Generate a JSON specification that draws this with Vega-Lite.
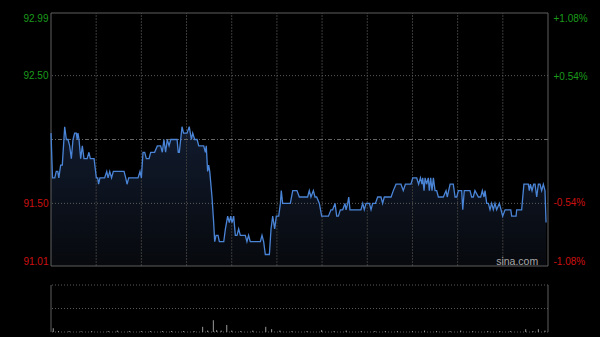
{
  "$schema": "https://vega.github.io/schema/vega-lite/v6.json",
  "width": 497,
  "height": 319,
  "autosize": {"type": "none"},
  "padding": {"left": 51, "top": 13, "right": 52, "bottom": 5},
  "background": "#000000",
  "config": {"view": {"stroke": null}, "font": "Liberation Sans"},
  "datasets": {
    "price": [
      {"t":0,"p":92.05},{"t":1,"p":91.70},{"t":2.5,"p":91.70},{"t":3.5,"p":91.75},{"t":4.5,"p":91.75},{"t":5.2,"p":91.70},{"t":6.4,"p":91.80},{"t":7.5,"p":91.80},{"t":9.1,"p":92.10},{"t":10.2,"p":92.00},{"t":11.3,"p":92.00},{"t":12.4,"p":91.95},{"t":13.5,"p":91.85},{"t":14.6,"p":92.00},{"t":15.7,"p":92.05},{"t":16.8,"p":92.05},{"t":17.4,"p":92.00},{"t":17.9,"p":92.05},{"t":18.6,"p":92.00},{"t":19.7,"p":91.85},{"t":20.8,"p":91.95},{"t":21.9,"p":91.85},{"t":24,"p":91.85},{"t":25.2,"p":91.90},{"t":26.1,"p":91.85},{"t":28.6,"p":91.85},
      {"t":30.1,"p":91.70},{"t":31,"p":91.70},{"t":31.6,"p":91.65},{"t":32.5,"p":91.70},{"t":35.6,"p":91.70},{"t":37,"p":91.75},{"t":37.9,"p":91.70},{"t":39,"p":91.75},{"t":40.2,"p":91.70},{"t":41.4,"p":91.75},{"t":48.5,"p":91.75},{"t":49.6,"p":91.70},{"t":50.5,"p":91.65},{"t":51.6,"p":91.70},{"t":57.8,"p":91.70},{"t":59.1,"p":91.75},{"t":60,"p":91.70},{"t":61.1,"p":91.90},{"t":62.2,"p":91.90},{"t":63.3,"p":91.85},{"t":65.1,"p":91.85},{"t":66.2,"p":91.90},{"t":68.8,"p":91.90},{"t":70.6,"p":91.95},{"t":72.8,"p":91.95},{"t":73.9,"p":91.90},{"t":75,"p":92.00},{"t":76.1,"p":91.90},{"t":77.2,"p":92.00},{"t":78.4,"p":91.95},{"t":79.5,"p":92.00},
      {"t":83.7,"p":92.00},{"t":84.5,"p":91.90},{"t":85.2,"p":91.90},{"t":87,"p":92.10},{"t":88,"p":92.05},{"t":90.3,"p":92.05},{"t":91.8,"p":92.10},{"t":93.2,"p":92.00},{"t":94.1,"p":92.05},{"t":95.4,"p":92.00},{"t":97,"p":92.00},{"t":98.1,"p":91.95},{"t":101.4,"p":91.95},{"t":102.5,"p":91.90},{"t":103.1,"p":91.95},{"t":104,"p":91.75},{"t":104.7,"p":91.80},{"t":105.4,"p":91.75},{"t":106.9,"p":91.55},{"t":108,"p":91.35},{"t":108.7,"p":91.20},{"t":109.6,"p":91.25},{"t":110.9,"p":91.25},{"t":111.8,"p":91.20},{"t":114.7,"p":91.20},{"t":115.8,"p":91.30},{"t":117.3,"p":91.40},{"t":118.4,"p":91.35},{"t":119.3,"p":91.40},{"t":120.2,"p":91.35},{"t":121.3,"p":91.40},{"t":122.4,"p":91.25},{"t":123.5,"p":91.25},{"t":124.6,"p":91.30},{"t":125.7,"p":91.25},{"t":129,"p":91.25},{"t":130.1,"p":91.20},{"t":131.2,"p":91.25},{"t":132.3,"p":91.20},{"t":139,"p":91.20},{"t":140.1,"p":91.25},{"t":141.2,"p":91.20},{"t":142.3,"p":91.10},{"t":145,"p":91.10},{"t":146.1,"p":91.30},{"t":147.2,"p":91.40},{"t":148.5,"p":91.30},{"t":149.6,"p":91.40},{"t":151.2,"p":91.40},{"t":152.3,"p":91.50},{"t":152.9,"p":91.60},{"t":153.8,"p":91.50},{"t":158.9,"p":91.50},{"t":160.5,"p":91.60},{"t":163.3,"p":91.60},{"t":164.9,"p":91.55},
      {"t":170.4,"p":91.55},{"t":171.5,"p":91.60},{"t":172.6,"p":91.55},{"t":174.2,"p":91.60},{"t":175.3,"p":91.55},{"t":176.4,"p":91.55},{"t":178.2,"p":91.50},{"t":179.7,"p":91.40},{"t":184.2,"p":91.40},{"t":185.9,"p":91.45},{"t":187,"p":91.45},{"t":188.6,"p":91.50},{"t":189.7,"p":91.40},{"t":190.8,"p":91.40},{"t":192.1,"p":91.45},{"t":193.7,"p":91.45},{"t":195.2,"p":91.50},{"t":195.9,"p":91.45},{"t":197,"p":91.50},{"t":197.7,"p":91.55},{"t":198.5,"p":91.45},{"t":205.8,"p":91.45},{"t":207,"p":91.50},{"t":208,"p":91.45},{"t":209.2,"p":91.50},{"t":211.4,"p":91.50},{"t":212.5,"p":91.45},{"t":213.6,"p":91.50},{"t":215.4,"p":91.50},{"t":216.9,"p":91.55},{"t":219.1,"p":91.55},{"t":220.2,"p":91.50},{"t":221.3,"p":91.55},{"t":225.8,"p":91.55},{"t":227.3,"p":91.60},{"t":229.1,"p":91.65},{"t":232.4,"p":91.65},{"t":233.9,"p":91.60},{"t":235.3,"p":91.65},{"t":239,"p":91.65},{"t":240.2,"p":91.70},{"t":242.8,"p":91.70},{"t":244.1,"p":91.65},{"t":245.3,"p":91.70},
      {"t":246.3,"p":91.65},{"t":246.8,"p":91.70},{"t":247.7,"p":91.60},{"t":248.4,"p":91.70},{"t":249.4,"p":91.65},{"t":250.5,"p":91.70},{"t":251.2,"p":91.60},{"t":252.1,"p":91.70},{"t":253,"p":91.60},{"t":253.9,"p":91.70},{"t":255,"p":91.60},{"t":256.1,"p":91.60},{"t":257.2,"p":91.55},{"t":260.5,"p":91.55},{"t":262.3,"p":91.60},{"t":263.1,"p":91.55},{"t":265,"p":91.65},{"t":267.1,"p":91.65},{"t":268.3,"p":91.55},{"t":269.4,"p":91.55},{"t":270.5,"p":91.60},{"t":272.7,"p":91.60},{"t":273.4,"p":91.45},{"t":274.4,"p":91.60},{"t":278.2,"p":91.60},{"t":279.3,"p":91.55},{"t":280.4,"p":91.55},{"t":281.5,"p":91.60},{"t":283.8,"p":91.55},{"t":285.3,"p":91.55},{"t":286.4,"p":91.60},{"t":287.5,"p":91.55},{"t":288.2,"p":91.60},{"t":289.3,"p":91.50},{"t":290.4,"p":91.50},{"t":291.5,"p":91.45},{"t":292.6,"p":91.50},{"t":293.7,"p":91.45},{"t":294.8,"p":91.50},{"t":295.9,"p":91.45},{"t":297.7,"p":91.50},{"t":298.8,"p":91.45},{"t":299.9,"p":91.40},{"t":301.5,"p":91.45},{"t":305.3,"p":91.45},{"t":305.9,"p":91.40},{"t":308.8,"p":91.40},{"t":309.2,"p":91.45},{"t":312.5,"p":91.45},{"t":314,"p":91.65},{"t":316.9,"p":91.65},{"t":317.6,"p":91.60},{"t":318.3,"p":91.65},{"t":319.4,"p":91.60},{"t":320.5,"p":91.65},{"t":321.4,"p":91.65},{"t":322.5,"p":91.55},{"t":323.6,"p":91.65},{"t":324.7,"p":91.65},{"t":325.8,"p":91.60},{"t":326.9,"p":91.65},{"t":328,"p":91.60},{"t":328.7,"p":91.35}
    ],
    "vol": [
      {"t":1.5,"v":8},{"t":5,"v":2},{"t":12,"v":2},{"t":20,"v":1.5},{"t":27,"v":2},{"t":38,"v":2},{"t":44,"v":3},{"t":52,"v":2},{"t":60,"v":2},{"t":66,"v":2},{"t":74,"v":2},{"t":80,"v":2},{"t":88,"v":2},{"t":95,"v":2},{"t":100.7,"v":11},{"t":104,"v":3},{"t":107.8,"v":25},{"t":110,"v":4},{"t":113,"v":3},{"t":116.7,"v":15},{"t":120,"v":3},{"t":126,"v":2},{"t":134,"v":3},{"t":142.6,"v":11},{"t":146.5,"v":6},{"t":152,"v":3},{"t":160,"v":2},{"t":170,"v":2},{"t":179.7,"v":4},{"t":188,"v":2},{"t":196,"v":3},{"t":206,"v":2},{"t":215,"v":2},{"t":222,"v":2},{"t":230,"v":2},{"t":240,"v":2},{"t":248,"v":3},{"t":256,"v":2},{"t":265,"v":2},{"t":272,"v":3},{"t":280,"v":2},{"t":290,"v":2},{"t":298,"v":2},{"t":305,"v":2},{"t":315.2,"v":6},{"t":320,"v":2},{"t":323.6,"v":6},{"t":328,"v":3}
    ],
    "vgrid": [{"t":30},{"t":60},{"t":90},{"t":120},{"t":150},{"t":180},{"t":210},{"t":240},{"t":270},{"t":300}],
    "hgrid": [{"p":92.5},{"p":91.5}],
    "volgrid": [{"v":100},{"v":50},{"v":0}],
    "pframe": [{"t":0},{"t":330}],
    "pframeh": [{"p":92.99},{"p":91.01}],
    "one": [{"label":"sina.com"}]
  },
  "resolve": {"scale": {"y": "independent"}, "axis": {"y": "independent"}},
  "layer": [
    {
      "data": {"name": "price"},
      "mark": {"type": "area", "color": {"gradient": "linear", "x1": 0, "y1": 0, "x2": 0, "y2": 1, "stops": [{"offset": 0, "color": "#111b2e"}, {"offset": 1, "color": "#07090d"}]}},
      "encoding": {
        "x": {"field": "t", "type": "quantitative", "scale": {"domain": [0, 330], "nice": false, "zero": false}, "axis": null},
        "y": {"field": "p", "type": "quantitative", "scale": {"domain": [91.01, 92.99], "range": [253, 0], "nice": false, "zero": false}, "axis": null},
        "y2": {"datum": 91.01}
      }
    },
    {
      "data": {"name": "vgrid"},
      "mark": {"type": "rule", "color": "#3a3a3a", "strokeWidth": 1, "strokeDash": [2, 1]},
      "encoding": {
        "x": {"field": "t", "type": "quantitative"},
        "y": {"datum": 91.01, "type": "quantitative", "scale": {"domain": [91.01, 92.99], "range": [253, 0], "nice": false, "zero": false}, "axis": null},
        "y2": {"datum": 92.99}
      }
    },
    {
      "data": {"name": "hgrid"},
      "mark": {"type": "rule", "color": "#5a5a5a", "strokeWidth": 1, "strokeDash": [1, 2]},
      "encoding": {
        "y": {"field": "p", "type": "quantitative", "scale": {"domain": [91.01, 92.99], "range": [253, 0], "nice": false, "zero": false}, "axis": null}
      }
    },
    {
      "data": {"values": [{}]},
      "mark": {"type": "rule", "color": "#666666", "strokeWidth": 1, "strokeDash": [4, 2, 1, 2]},
      "encoding": {
        "y": {"datum": 0, "type": "quantitative", "scale": {"domain": [-1.08, 1.08], "range": [253, 0], "nice": false, "zero": false},
          "axis": {"orient": "right", "values": [-1.08, -0.54, 0.54, 1.08], "labelExpr": "(datum.value > 0 ? '+' : '-') + format(abs(datum.value), '.2f') + '%'", "labelFlush": true, "grid": false, "ticks": false, "domain": false, "labelPadding": 5, "labelFont": "Liberation Sans", "labelFontSize": 10, "labelColor": {"condition": {"test": "datum.value > 0", "value": "#1a9a1a"}, "value": "#cc1111"}, "title": null}}
      }
    },
    {
      "data": {"name": "pframeh"},
      "mark": {"type": "rule", "color": "#5e5e5e", "strokeWidth": 1},
      "encoding": {
        "y": {"field": "p", "type": "quantitative", "scale": {"domain": [91.01, 92.99], "range": [253, 0], "nice": false, "zero": false}, "axis": null}
      }
    },
    {
      "data": {"name": "pframe"},
      "mark": {"type": "rule", "color": "#5e5e5e", "strokeWidth": 1},
      "encoding": {
        "x": {"field": "t", "type": "quantitative"},
        "y": {"datum": 91.01, "type": "quantitative", "scale": {"domain": [91.01, 92.99], "range": [253, 0], "nice": false, "zero": false}, "axis": null},
        "y2": {"datum": 92.99}
      }
    },
    {
      "data": {"name": "price"},
      "mark": {"type": "line", "color": "#4a84d6", "strokeWidth": 1.3, "interpolate": "linear"},
      "encoding": {
        "x": {"field": "t", "type": "quantitative"},
        "y": {"field": "p", "type": "quantitative", "scale": {"domain": [91.01, 92.99], "range": [253, 0], "nice": false, "zero": false},
          "axis": {"orient": "left", "values": [91.01, 91.5, 92.5, 92.99], "format": ".2f", "labelFlush": true, "grid": false, "ticks": false, "domain": false, "labelPadding": 3, "labelFont": "Liberation Sans", "labelFontSize": 10, "labelColor": {"condition": {"test": "datum.value >= 92", "value": "#1a9a1a"}, "value": "#cc1111"}, "title": null}}
      }
    },
    {
      "data": {"name": "one"},
      "mark": {"type": "text", "color": "#a8a8a8", "fontSize": 10.5, "font": "Liberation Sans", "align": "center", "baseline": "middle"},
      "encoding": {
        "x": {"datum": 309.5, "type": "quantitative"},
        "y": {"datum": 91.04, "type": "quantitative", "scale": {"domain": [91.01, 92.99], "range": [253, 0], "nice": false, "zero": false}, "axis": null},
        "text": {"field": "label"}
      }
    },
    {
      "data": {"name": "volgrid"},
      "mark": {"type": "rule", "color": "#5a5a5a", "strokeWidth": 1, "strokeDash": [1, 2]},
      "encoding": {
        "y": {"field": "v", "type": "quantitative", "scale": {"domain": [0, 100], "range": [319, 272], "nice": false, "zero": false}, "axis": null}
      }
    },
    {
      "data": {"name": "pframe"},
      "mark": {"type": "rule", "color": "#5e5e5e", "strokeWidth": 1},
      "encoding": {
        "x": {"field": "t", "type": "quantitative"},
        "y": {"datum": 0, "type": "quantitative", "scale": {"domain": [0, 100], "range": [319, 272], "nice": false, "zero": false}, "axis": null},
        "y2": {"datum": 100}
      }
    },
    {
      "data": {"name": "vol"},
      "mark": {"type": "rule", "color": "#9a9a9a", "strokeWidth": 1},
      "encoding": {
        "x": {"field": "t", "type": "quantitative"},
        "y": {"field": "v", "type": "quantitative", "scale": {"domain": [0, 100], "range": [319, 272], "nice": false, "zero": false}, "axis": null},
        "y2": {"datum": 0}
      }
    }
  ]
}
